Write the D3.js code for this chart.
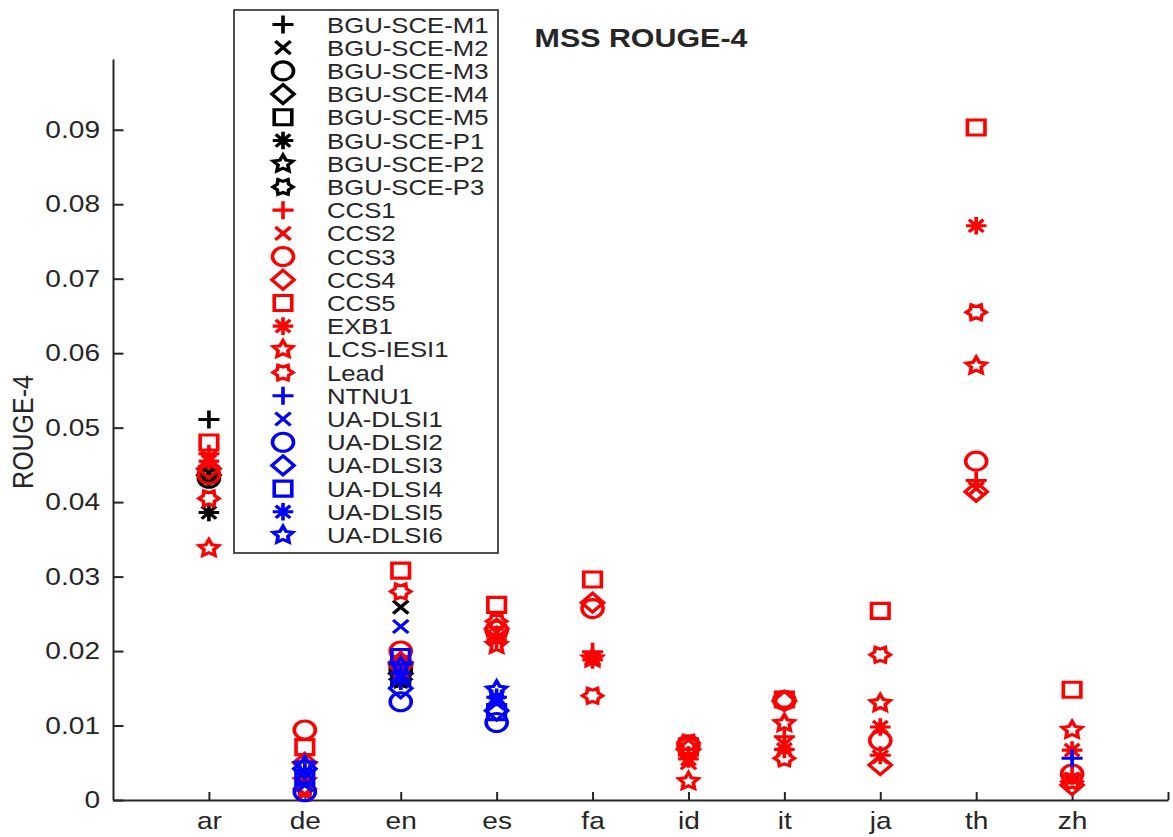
<!DOCTYPE html>
<html>
<head>
<meta charset="utf-8">
<script src="https://cdn.jsdelivr.net/npm/d3@7"></script>
<style>
  body { margin: 0; background: #fff; }
  svg text { font-family: "Liberation Sans", Arial, Helvetica, sans-serif; fill: #262626; }
</style>
</head>
<body>
<div id="chart"></div>
<script>
// languages on the x axis
const languages = ["ar", "de", "en", "es", "fa", "id", "it", "ja", "th", "zh"];
const yTicks = [0, 0.01, 0.02, 0.03, 0.04, 0.05, 0.06, 0.07, 0.08, 0.09];

// ROUGE-4 per system, same order as languages (null = no run)
const bguM1 = [0.0511, null, 0.0168, null, null, null, null, null, null, null];
const bguM2 = [0.0440, null, 0.0259, null, null, null, null, null, null, null];
const bguM3 = [0.0432, null, 0.0175, null, null, null, null, null, null, null];
const bguM4 = [0.0436, null, 0.0170, null, null, null, null, null, null, null];
const bguM5 = [0.0438, null, 0.0165, null, null, null, null, null, null, null];
const bguP1 = [0.0386, null, 0.0160, null, null, null, null, null, null, null];
const bguP2 = [0.0440, null, 0.0178, null, null, null, null, null, null, null];
const bguP3 = [0.0437, null, 0.0162, null, null, null, null, null, null, null];
const ccs1 = [0.0465, 0.0040, 0.0190, 0.0220, 0.0199, 0.0060, 0.0085, 0.0060, 0.0429, 0.0033];
const ccs2 = [0.0460, 0.0008, 0.0185, 0.0225, 0.0190, 0.0050, 0.0075, 0.0058, 0.0418, 0.0028];
const ccs3 = [0.0437, 0.0094, 0.0200, 0.0228, 0.0257, 0.0074, 0.0134, 0.0080, 0.0455, 0.0035];
const ccs4 = [0.0445, 0.0050, 0.0185, 0.0230, 0.0265, 0.0068, 0.0133, 0.0047, 0.0414, 0.0020];
const ccs5 = [0.0480, 0.0071, 0.0308, 0.0262, 0.0296, 0.0072, 0.0135, 0.0254, 0.0903, 0.0148];
const exb1 = [0.0455, 0.0030, 0.0180, 0.0215, 0.0188, 0.0055, 0.0068, 0.0098, 0.0771, 0.0067];
const lcsIesi1 = [0.0338, 0.0025, 0.0175, 0.0208, 0.0190, 0.0025, 0.0103, 0.0130, 0.0583, 0.0094];
const lead = [0.0405, 0.0015, 0.0280, 0.0240, 0.0140, 0.0077, 0.0056, 0.0195, 0.0655, 0.0025];
const ntnu1 = [null, null, 0.0160, null, null, null, null, null, null, 0.0056];
const uaDlsi1 = [null, 0.0020, 0.0233, 0.0130, null, null, null, null, null, null];
const uaDlsi2 = [null, 0.0011, 0.0132, 0.0104, null, null, null, null, null, null];
const uaDlsi3 = [null, 0.0042, 0.0150, 0.0120, null, null, null, null, null, null];
const uaDlsi4 = [null, 0.0030, 0.0192, 0.0118, null, null, null, null, null, null];
const uaDlsi5 = [null, 0.0038, 0.0170, 0.0138, null, null, null, null, null, null];
const uaDlsi6 = [null, 0.0047, 0.0180, 0.0148, null, null, null, null, null, null];

const systemNames = ["BGU-SCE-M1","BGU-SCE-M2","BGU-SCE-M3","BGU-SCE-M4","BGU-SCE-M5","BGU-SCE-P1","BGU-SCE-P2","BGU-SCE-P3",
  "CCS1","CCS2","CCS3","CCS4","CCS5","EXB1","LCS-IESI1","Lead",
  "NTNU1","UA-DLSI1","UA-DLSI2","UA-DLSI3","UA-DLSI4","UA-DLSI5","UA-DLSI6"];
const systemValues = [bguM1,bguM2,bguM3,bguM4,bguM5,bguP1,bguP2,bguP3,
  ccs1,ccs2,ccs3,ccs4,ccs5,exb1,lcsIesi1,lead,
  ntnu1,uaDlsi1,uaDlsi2,uaDlsi3,uaDlsi4,uaDlsi5,uaDlsi6];

// matlab style marker cycle + colour per group
const markerCycle = ["plus","x","circle","diamond","square","asterisk","pentagram","hexagram"];
const groupColors = ["#000000","#ff0000","#0000ff"];

const W = 1173, H = 837;
const SX = 1.17; // the reference is a bit stretched horizontally
const MW = 3.1;  // marker line width
const svg = d3.select("#chart").append("svg").attr("width", W).attr("height", H);

const x = d3.scaleLinear().domain([0, 11]).range([113, 1168]);
const y = d3.scaleLinear().domain([0, 0.0995]).range([800, 59]);

function star(p, n, ro, ri, start) {
  for (let i = 0; i < 2 * n; i++) {
    const r = i % 2 === 0 ? ro : ri;
    const ang = start + i * Math.PI / n;
    if (i === 0) p.moveTo(r * Math.cos(ang), r * Math.sin(ang));
    else p.lineTo(r * Math.cos(ang), r * Math.sin(ang));
  }
  p.closePath();
}

function markerPath(type) {
  const p = d3.path();
  if (type === "plus") {
    p.moveTo(-9, 0); p.lineTo(9, 0); p.moveTo(0, -9); p.lineTo(0, 9);
  } else if (type === "x") {
    const a = 6.5;
    p.moveTo(-a, -a); p.lineTo(a, a); p.moveTo(a, -a); p.lineTo(-a, a);
  } else if (type === "circle") {
    p.moveTo(9, 0); p.arc(0, 0, 9, 0, 2 * Math.PI);
  } else if (type === "diamond") {
    p.moveTo(0, -9.5); p.lineTo(9.5, 0); p.lineTo(0, 9.5); p.lineTo(-9.5, 0); p.closePath();
  } else if (type === "square") {
    p.rect(-7.5, -7.5, 15, 15);
  } else if (type === "asterisk") {
    const a = 6.2;
    p.moveTo(-8.8, 0); p.lineTo(8.8, 0); p.moveTo(0, -8.8); p.lineTo(0, 8.8);
    p.moveTo(-a, -a); p.lineTo(a, a); p.moveTo(a, -a); p.lineTo(-a, a);
  } else if (type === "pentagram") {
    star(p, 5, 8.8, 4.4, -Math.PI / 2);
  } else if (type === "hexagram") {
    star(p, 6, 8.6, 5.6, 0);
  }
  return p.toString();
}

function systemStyle(i) {
  let group = i < 8 ? 0 : (i < 16 ? 1 : 2);
  let idx = i < 8 ? i : (i < 16 ? i - 8 : i - 16);
  return { color: groupColors[group], marker: markerCycle[idx] };
}

// axes
const yAxis = svg.append("g")
  .attr("transform", "translate(113,0)")
  .call(d3.axisLeft(y).tickValues(yTicks).tickSizeInner(-10.5).tickSizeOuter(0).tickPadding(13)
    .tickFormat(d => d === 0 ? "0" : d.toFixed(2)));
yAxis.select(".domain").attr("stroke", "#262626").attr("stroke-width", 2);
yAxis.selectAll(".tick line").attr("stroke", "#262626").attr("stroke-width", 2);
yAxis.selectAll(".tick text")
  .attr("x", null)
  .attr("transform", "translate(-13,0) scale(" + SX + ",1)")
  .style("font-size", "24px");

const xAxis = svg.append("g")
  .attr("transform", "translate(0,800)")
  .call(d3.axisBottom(x).tickValues(d3.range(1, 12)).tickSizeInner(-8).tickSizeOuter(0).tickPadding(12)
    .tickFormat(d => languages[d - 1] || ""));
xAxis.select(".domain").attr("stroke", "#262626").attr("stroke-width", 2);
xAxis.selectAll(".tick line").attr("stroke", "#262626").attr("stroke-width", 2);
xAxis.selectAll(".tick text")
  .attr("y", null)
  .attr("transform", "translate(0,12) scale(" + SX + ",1)")
  .style("font-size", "24px");
svg.selectAll(".tick text").attr("fill", "#262626");

// points
const points = [];
systemValues.forEach((vals, i) => {
  const st = systemStyle(i);
  vals.forEach((v, j) => {
    if (v != null) points.push({ x: j + 1, v: v, color: st.color, marker: st.marker });
  });
});

svg.append("g").selectAll("path.pt")
  .data(points)
  .enter().append("path").attr("class", "pt")
  .attr("d", d => markerPath(d.marker))
  .attr("transform", d => "translate(" + x(d.x) + "," + y(d.v) + ") scale(" + SX + ",1)")
  .attr("fill", "none")
  .attr("stroke", d => d.color)
  .attr("stroke-width", MW);

// title and y label
svg.append("text")
  .attr("transform", "translate(641,47) scale(" + SX + ",1)")
  .attr("text-anchor", "middle")
  .style("font-size", "26px").style("font-weight", "bold")
  .attr("fill", "#000")
  .text("MSS ROUGE-4");

svg.append("text")
  .attr("transform", "translate(33,432) rotate(-90) scale(1," + SX + ")")
  .attr("text-anchor", "middle")
  .style("font-size", "25px")
  .text("ROUGE-4");

// legend
const legend = svg.append("g");
legend.append("rect")
  .attr("x", 234).attr("y", 10).attr("width", 264).attr("height", 543)
  .attr("fill", "#fff").attr("stroke", "#262626").attr("stroke-width", 1.6);

const rowY = d3.scaleLinear().domain([0, systemNames.length - 1]).range([24.5, 535]);
const rows = legend.selectAll("g.row")
  .data(systemNames)
  .enter().append("g").attr("class", "row")
  .attr("transform", (d, i) => "translate(0," + rowY(i) + ")");
rows.append("path")
  .attr("d", (d, i) => markerPath(systemStyle(i).marker))
  .attr("transform", "translate(283,0) scale(" + SX + ",1)")
  .attr("fill", "none")
  .attr("stroke", (d, i) => systemStyle(i).color)
  .attr("stroke-width", MW);
rows.append("text")
  .attr("transform", "translate(327,8) scale(" + SX + ",1)")
  .style("font-size", "22px")
  .attr("fill", "#000")
  .text(d => d);
</script>
</body>
</html>
